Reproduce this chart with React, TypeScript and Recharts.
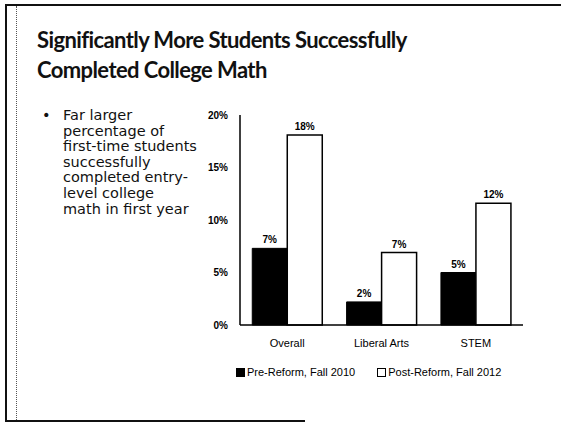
import { BarChart, Bar, XAxis, YAxis, Legend, LabelList } from "recharts";

const categories = ["Overall", "Liberal Arts", "STEM"];
const preReform = [7.3, 2.2, 5.0];
const postReform = [18.1, 6.9, 11.6];
const yTicks = [0, 5, 10, 15, 20];
const bulletLines = [
  "Far larger",
  "percentage of",
  "first-time students",
  "successfully",
  "completed entry-",
  "level college",
  "math in first year",
];

const chartData = categories.map((c, i) => ({ name: c, pre: preReform[i], post: postReform[i] }));

const headFont = "Lato, 'Open Sans', sans-serif";
const bodyFont = "'DejaVu Sans', sans-serif";
const chartFont = "'Liberation Sans', Arial, sans-serif";

function LegendBox() {
  const item = (fill: string, text: string) => (
    <span style={{ display: "inline-flex", alignItems: "center", marginRight: 22 }}>
      <span style={{ width: 7, height: 7, background: fill, border: "1px solid #000", marginRight: 2 }} />
      <span>{text}</span>
    </span>
  );
  return (
    <div style={{ fontFamily: chartFont, fontSize: 11, color: "#000", whiteSpace: "nowrap" }}>
      {item("#000", "Pre-Reform, Fall 2010")}
      {item("#fff", "Post-Reform, Fall 2012")}
    </div>
  );
}

export default function App() {
  return (
    <div style={{ position: "fixed", left: 0, top: 0, width: 561, height: 424, background: "#fff", overflow: "hidden" }}>
      {/* slide frame */}
      <div style={{ position: "absolute", left: 6, top: 4, width: 555, height: 0, borderTop: "2px solid #111" }} />
      <div style={{ position: "absolute", left: 5, top: 4, width: 0, height: 417, borderLeft: "2px solid #111" }} />
      <div style={{ position: "absolute", left: 16, top: 6, width: 0, height: 414, borderLeft: "1px dotted #555" }} />
      <div style={{ position: "absolute", left: 5, top: 420, width: 300, height: 0, borderTop: "2px solid #111" }} />

      <div style={{ position: "absolute", left: 37, top: 25, fontFamily: headFont, fontWeight: 700, fontSize: 22,
        letterSpacing: -0.6, lineHeight: "30px", color: "#111" }}>
        Significantly More Students Successfully<br />Completed College Math
      </div>

      <div style={{ position: "absolute", left: 42, top: 108, fontFamily: bodyFont, fontSize: 14.5, lineHeight: "15.6px", color: "#111" }}>
        <span style={{ position: "absolute", left: 0, top: 0 }}>•</span>
        <div style={{ marginLeft: 21 }}>
          {bulletLines.map((l) => <div key={l}>{l}</div>)}
        </div>
      </div>

      <div style={{ position: "absolute", left: 200, top: 100 }}>
        <BarChart width={340} height={290} data={chartData} margin={{ top: 15, right: 17, left: 10, bottom: 8 }}
          barCategoryGap="13%" barGap={0}>
          <YAxis domain={[0, 20]} ticks={yTicks} width={30} tickLine={false} tickMargin={6}
            axisLine={{ stroke: "#000", strokeWidth: 1.5 }} tickFormatter={(v) => `${v}%`}
            tick={{ fill: "#000", fontSize: 10, fontWeight: 700, fontFamily: chartFont }} />
          <XAxis dataKey="name" height={41} tickLine={false} tickMargin={8}
            axisLine={{ stroke: "#000", strokeWidth: 1.5 }}
            tick={{ fill: "#000", fontSize: 11, fontFamily: chartFont }} />
          <Legend verticalAlign="bottom" align="left" height={16} content={<LegendBox />}
            wrapperStyle={{ left: 36, width: 300 }} />
          <Bar dataKey="pre" fill="#000" stroke="#000" strokeWidth={1} isAnimationActive={false}>
            <LabelList dataKey="pre" position="top" offset={5} formatter={(v: any) => `${Math.round(Number(v))}%`}
              style={{ fill: "#000", fontSize: 10, fontWeight: 700, fontFamily: chartFont }} />
          </Bar>
          <Bar dataKey="post" fill="#fff" stroke="#000" strokeWidth={1.5} isAnimationActive={false}>
            <LabelList dataKey="post" position="top" offset={5} formatter={(v: any) => `${Math.round(Number(v))}%`}
              style={{ fill: "#000", fontSize: 10, fontWeight: 700, fontFamily: chartFont }} />
          </Bar>
        </BarChart>
      </div>
    </div>
  );
}
